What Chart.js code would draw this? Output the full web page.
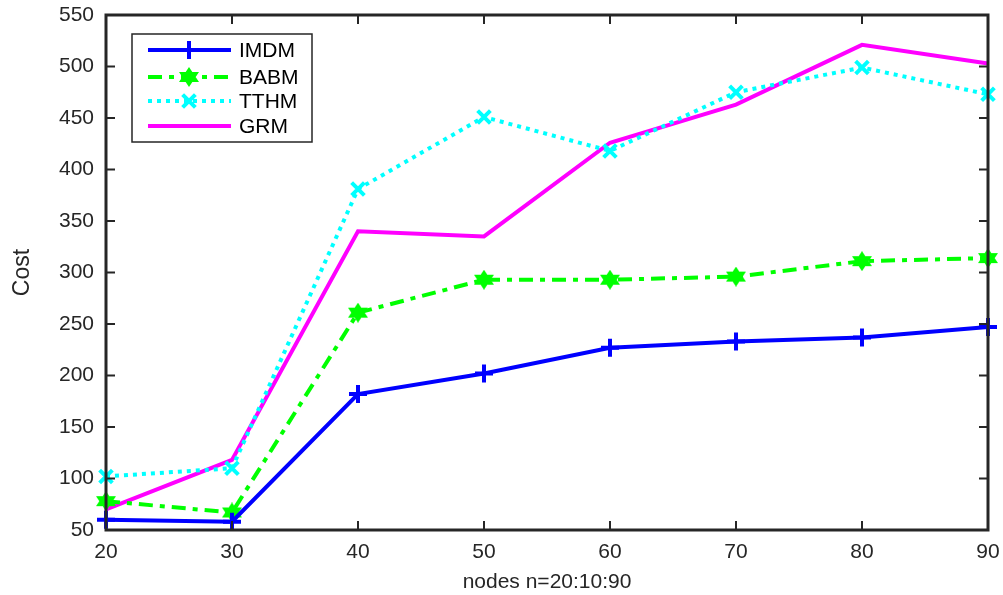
<!DOCTYPE html>
<html>
<head>
<meta charset="utf-8">
<script src="https://cdn.jsdelivr.net/npm/chart.js@4/dist/chart.umd.min.js"></script>
<style>
  html, body { margin: 0; padding: 0; background: #fff; }
  .chart-container { width: 1003px; height: 595px; }
</style>
</head>
<body>
<div class="chart-container">
  <canvas id="costChart" width="1003" height="595"></canvas>
</div>
<script>
  const nodes = [20, 30, 40, 50, 60, 70, 80, 90];
  const imdm = [60, 58, 182, 202, 227, 233, 237, 247];
  const babm = [78, 67, 261, 293, 293, 296, 311, 314];
  const tthm = [102, 110, 381, 451, 418, 475, 499, 473];
  const grm = [70, 118, 340, 335, 426, 463, 521, 503];
  const yTicks = [50, 100, 150, 200, 250, 300, 350, 400, 450, 500, 550];

  const axisColor = "#262626";
  const fontFamily = "'Liberation Sans', Arial, Helvetica, sans-serif";

  // filled six-point star marker (hexagram)
  function makeHexagram(color) {
    const c = document.createElement("canvas");
    c.width = 22;
    c.height = 20;
    const g = c.getContext("2d");
    g.fillStyle = color;
    g.beginPath();
    g.moveTo(11, 0); g.lineTo(21, 15); g.lineTo(1, 15); g.closePath();
    g.moveTo(11, 20); g.lineTo(1, 5); g.lineTo(21, 5); g.closePath();
    g.fill();
    return c;
  }
  const hexStar = makeHexagram("#00ff00");

  // box with inward ticks, like the original plot
  const framePlugin = {
    id: "frame",
    afterDatasetsDraw(chart) {
      const { ctx, chartArea: a, scales } = chart;
      ctx.save();
      ctx.strokeStyle = axisColor;
      ctx.lineWidth = 3;
      ctx.strokeRect(a.left, a.top, a.right - a.left, a.bottom - a.top);
      ctx.lineWidth = 2;
      ctx.beginPath();
      const tl = 9;
      scales.x.ticks.forEach((t, i) => {
        const x = scales.x.getPixelForTick(i);
        ctx.moveTo(x, a.bottom); ctx.lineTo(x, a.bottom - tl);
        ctx.moveTo(x, a.top); ctx.lineTo(x, a.top + tl);
      });
      scales.y.ticks.forEach((t, i) => {
        const y = scales.y.getPixelForTick(i);
        ctx.moveTo(a.left, y); ctx.lineTo(a.left + tl, y);
        ctx.moveTo(a.right, y); ctx.lineTo(a.right - tl, y);
      });
      ctx.stroke();
      ctx.restore();
    },
    afterDraw(chart) {
      const { ctx } = chart;
      const box = { x: 132, y: 34, w: 180, h: 108 };
      ctx.save();
      ctx.fillStyle = "#fff";
      ctx.fillRect(box.x, box.y, box.w, box.h);
      ctx.strokeStyle = axisColor;
      ctx.lineWidth = 1.5;
      ctx.strokeRect(box.x, box.y, box.w, box.h);
      const rows = [50, 77, 101, 126];
      chart.data.datasets.forEach((ds, i) => {
        const y = rows[i];
        ctx.save();
        ctx.strokeStyle = ds.borderColor;
        ctx.lineWidth = ds.borderWidth;
        ctx.setLineDash(ds.borderDash || []);
        ctx.beginPath();
        ctx.moveTo(148, y);
        ctx.lineTo(231, y);
        ctx.stroke();
        ctx.restore();
        if (ds.pointRadius > 0) {
          ctx.save();
          ctx.strokeStyle = ds.pointBorderColor;
          ctx.fillStyle = ds.pointBackgroundColor;
          ctx.lineWidth = ds.pointBorderWidth;
          Chart.helpers.drawPoint(ctx, {
            pointStyle: ds.pointStyle,
            radius: ds.pointRadius,
            rotation: 0,
            borderWidth: ds.pointBorderWidth,
          }, 189, y);
          ctx.restore();
        }
        ctx.fillStyle = "#000";
        ctx.font = "21px " + fontFamily;
        ctx.textBaseline = "middle";
        ctx.textAlign = "left";
        ctx.fillText(ds.label, 239, y + 1);
      });
      ctx.restore();
    },
  };

  const ctx = document.getElementById("costChart").getContext("2d");
  const myChart = new Chart(ctx, {
    type: "line",
    data: {
      labels: nodes,
      datasets: [
        {
          label: "IMDM",
          data: imdm,
          borderColor: "#0000ff",
          borderWidth: 4,
          pointStyle: "cross",
          pointRadius: 9,
          pointBorderWidth: 4,
          pointBorderColor: "#0000ff",
          pointBackgroundColor: "#0000ff",
        },
        {
          label: "BABM",
          data: babm,
          borderColor: "#00ff00",
          borderWidth: 4,
          borderDash: [14, 7, 5, 7],
          pointStyle: hexStar,
          pointRadius: 10,
          pointBorderWidth: 0,
          pointBorderColor: "#00ff00",
          pointBackgroundColor: "#00ff00",
        },
        {
          label: "TTHM",
          data: tthm,
          borderColor: "#00ffff",
          borderWidth: 4,
          borderDash: [4, 5],
          pointStyle: "crossRot",
          pointRadius: 9,
          pointBorderWidth: 4,
          pointBorderColor: "#00ffff",
          pointBackgroundColor: "#00ffff",
        },
        {
          label: "GRM",
          data: grm,
          borderColor: "#ff00ff",
          borderWidth: 4,
          pointRadius: 0,
          pointBorderColor: "#ff00ff",
          pointBackgroundColor: "#ff00ff",
        },
      ],
    },
    options: {
      responsive: false,
      animation: false,
      maintainAspectRatio: false,
      layout: { padding: { left: 0, top: 15, right: 15, bottom: 0 } },
      elements: { line: { tension: 0, borderCapStyle: "butt" } },
      datasets: { line: { clip: false } },
      plugins: {
        legend: { display: false },
        tooltip: { enabled: false },
      },
      scales: {
        x: {
          type: "category",
          offset: false,
          grid: { display: false, drawTicks: false },
          border: { display: false },
          ticks: {
            color: axisColor,
            font: { family: fontFamily, size: 21 },
            padding: 10,
            maxRotation: 0,
          },
          title: {
            display: true,
            text: "nodes n=20:10:90",
            color: axisColor,
            font: { family: fontFamily, size: 21 },
            padding: { top: 0, bottom: 0 },
          },
          afterFit(scale) {
            scale.height = 65;
            scale.paddingLeft = 0;
            scale.paddingRight = 0;
          },
        },
        y: {
          min: 50,
          max: 550,
          grid: { display: false, drawTicks: false },
          border: { display: false },
          afterBuildTicks(scale) { scale.ticks = yTicks.map(v => ({ value: v })); },
          ticks: {
            color: axisColor,
            font: { family: fontFamily, size: 21 },
            padding: 12,
          },
          title: {
            display: true,
            text: "Cost",
            color: axisColor,
            font: { family: fontFamily, size: 23 },
            padding: { top: 9, bottom: 0 },
          },
          afterFit(scale) {
            scale.width = 106;
            scale.paddingTop = 0;
            scale.paddingBottom = 0;
          },
        },
      },
    },
    plugins: [framePlugin],
  });
</script>
</body>
</html>
